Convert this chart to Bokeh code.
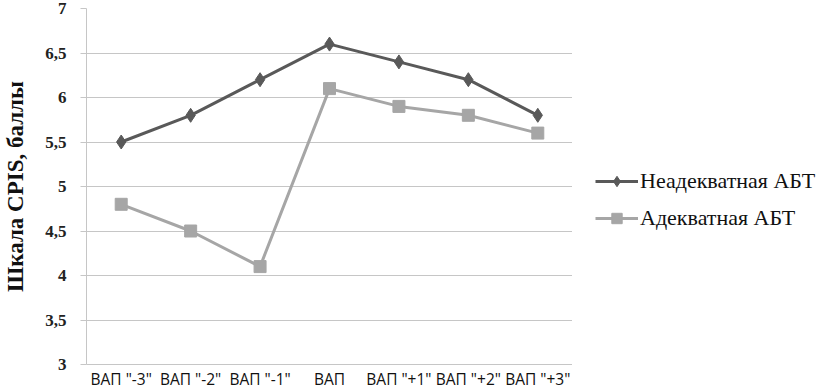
from bokeh.plotting import figure
from bokeh.models import Legend, LegendItem, FixedTicker, Range1d
from bokeh.layouts import row
from bokeh.embed import file_html
from bokeh.resources import INLINE

categories = ['ВАП "-3"', 'ВАП "-2"', 'ВАП "-1"', 'ВАП', 'ВАП "+1"', 'ВАП "+2"', 'ВАП "+3"']
inadequate = [5.5, 5.8, 6.2, 6.6, 6.4, 6.2, 5.8]
adequate = [4.8, 4.5, 4.1, 6.1, 5.9, 5.8, 5.6]
series_names = ["Неадекватная АБТ", "Адекватная АБТ"]
y_ticks = [3, 3.5, 4, 4.5, 5, 5.5, 6, 6.5, 7]
y_tick_labels = {3: "3", 3.5: "3,5", 4: "4", 4.5: "4,5", 5: "5", 5.5: "5,5", 6: "6", 6.5: "6,5", 7: "7"}

dark = "#595959"
light = "#a6a6a6"
gridc = "#c6c6c6"

p = figure(x_range=categories, y_range=(3, 7), frame_width=486, frame_height=356,
           output_backend="svg", toolbar_location=None,
           min_border_left=82, min_border_top=8, min_border_bottom=22, min_border_right=0)
p.outline_line_color = None
p.background_fill_color = "white"
p.border_fill_color = "white"

r1 = p.line(categories, inadequate, line_color=dark, line_width=3)
m1 = p.scatter(categories, inadequate, marker="diamond", size=14, fill_color=dark, line_color=dark)
r2 = p.line(categories, adequate, line_color=light, line_width=3)
m2 = p.scatter(categories, adequate, marker="square", size=12, fill_color=light, line_color=light)

p.xgrid.grid_line_color = None
p.ygrid.grid_line_color = gridc
p.ygrid.grid_line_width = 1

p.yaxis.ticker = FixedTicker(ticks=y_ticks)
p.yaxis.major_label_overrides = y_tick_labels
p.yaxis.minor_tick_line_color = None
p.yaxis.major_tick_in = 0
p.yaxis.major_tick_out = 6
p.yaxis.major_tick_line_color = gridc
p.yaxis.axis_line_color = gridc
p.yaxis.major_label_text_font = "Liberation Serif"
p.yaxis.major_label_text_font_style = "bold"
p.yaxis.major_label_text_font_size = "17px"
p.yaxis.major_label_text_color = "#222222"
p.yaxis.major_label_standoff = 14
p.yaxis.axis_label = "Шкала CPIS, баллы"
p.yaxis.axis_label_text_font = "Liberation Serif"
p.yaxis.axis_label_text_font_style = "bold"
p.yaxis.axis_label_text_font_size = "23px"
p.yaxis.axis_label_text_color = "#111111"
p.yaxis.axis_label_standoff = 14

p.xaxis.axis_line_color = gridc
p.xaxis.major_tick_line_color = None
p.xaxis.minor_tick_line_color = None
p.xaxis.major_tick_in = 0
p.xaxis.major_tick_out = 0
p.xaxis.major_label_text_font = "Open Sans"
p.xaxis.major_label_text_font_size = "15.5px"
p.xaxis.major_label_text_color = "#111111"
p.xaxis.major_label_standoff = 3

# legend panel: a second figure whose legend swatches match the series styles
nan = [float("nan")]
p2 = figure(x_range=Range1d(0, 1), y_range=Range1d(0, 1), frame_width=250, frame_height=356,
            output_backend="svg", toolbar_location=None,
            min_border_left=0, min_border_top=8, min_border_bottom=22, min_border_right=0)
p2.axis.visible = False
p2.grid.grid_line_color = None
p2.outline_line_color = None
l1 = p2.line(nan, nan, line_color=dark, line_width=3)
s1 = p2.scatter(nan, nan, marker="diamond", size=13, fill_color=dark, line_color=dark)
l2 = p2.line(nan, nan, line_color=light, line_width=3)
s2 = p2.scatter(nan, nan, marker="square", size=12, fill_color=light, line_color=light)

legend = Legend(items=[LegendItem(label=series_names[0], renderers=[l1, s1]),
                       LegendItem(label=series_names[1], renderers=[l2, s2])],
                location=(23, 133), orientation="vertical")
legend.label_text_font = "Liberation Serif"
legend.label_text_font_size = "22px"
legend.label_text_color = "#111111"
legend.glyph_width = 43
legend.glyph_height = 26
legend.label_height = 26
legend.spacing = 11
legend.border_line_color = None
legend.background_fill_alpha = 0
legend.margin = 0
legend.padding = 6
legend.label_standoff = 2
p2.add_layout(legend, "center")

layout = row(p, p2)
open("out.html", "w").write(file_html(layout, INLINE))
